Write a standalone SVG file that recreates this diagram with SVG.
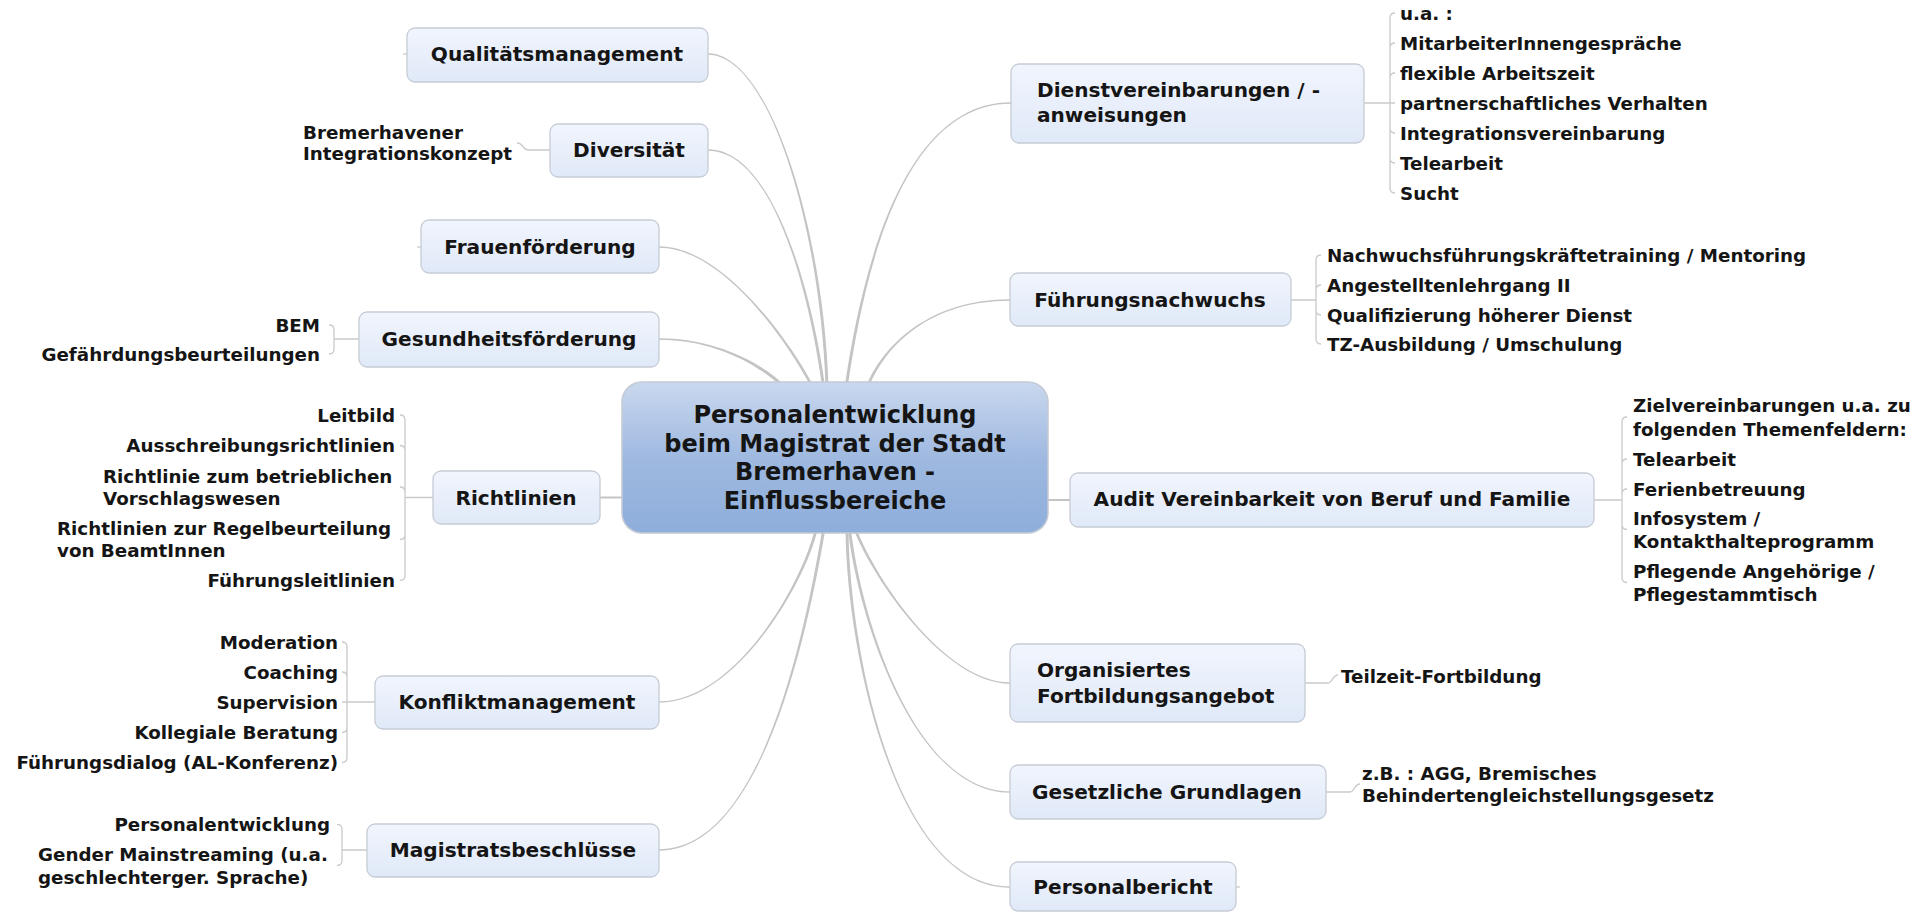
<svg xmlns="http://www.w3.org/2000/svg" width="1931" height="912" viewBox="0 0 1931 912">
<defs>
<linearGradient id="gNode" x1="0" y1="0" x2="0" y2="1">
<stop offset="0" stop-color="#f1f5fd"/>
<stop offset="1" stop-color="#e0e9f8"/>
</linearGradient>
<linearGradient id="gCenter" x1="0" y1="0" x2="0" y2="1">
<stop offset="0" stop-color="#c9d8ee"/>
<stop offset="0.5" stop-color="#9fb9e0"/>
<stop offset="1" stop-color="#8eaedb"/>
</linearGradient>
<style>
.box{fill:url(#gNode);stroke:#c6ccd5;stroke-width:1.3}
.cbox{fill:url(#gCenter);stroke:#c3cad4;stroke-width:1.5}
text{font-family:"DejaVu Sans",Verdana,sans-serif;font-weight:bold;fill:#151515}
.t{font-size:20.1px}
.s{font-size:18.3px}
.c{font-size:24px}
.m{text-anchor:middle}
.e{text-anchor:end}
.cn{fill:#c4c4c4;stroke:none}
.ln{fill:none;stroke:#c4c4c4;stroke-width:2}
.br{fill:none;stroke:#cacaca;stroke-width:1.3}
</style>
</defs>
<rect width="1931" height="912" fill="#ffffff"/>

<g id="connectors">
<path class="cn" d="M708,53.3 C770,53.3 823.5,230 828.5,386 L825.5,386 C820.5,230 770,54.7 708,54.7 Z"/>
<path class="cn" d="M708,149.3 C775,149.3 813.5,300 825,386 L822,386 C810.5,300 775,150.7 708,150.7 Z"/>
<path class="cn" d="M659,246.3 C720,246.3 786.5,335 813.5,386 L810.5,386 C783.5,335 720,247.7 659,247.7 Z"/>
<path class="cn" d="M659,338.3 C710,338.3 756.1,358.9 783.1,383.9 L780.9,386.1 C753.9,361.1 710,339.7 659,339.7 Z"/>
<path class="cn" d="M1011,102.3 C900,102.3 860.5,280 844.8,386 L847.8,386 C863.5,280 900,103.7 1011,103.7 Z"/>
<path class="cn" d="M1010,299.3 C930,299.3 883.5,345 866.8,385 L869.8,385 C886.5,345 930,300.7 1010,300.7 Z"/>
<path class="cn" d="M659,701.3 C735,701.3 801.5,585 814.5,530 L817.5,530 C804.5,585 735,702.7 659,702.7 Z"/>
<path class="cn" d="M659,849.3 C760,849.3 803.5,640 822.2,530 L825.2,530 C806.5,640 760,850.7 659,850.7 Z"/>
<path class="cn" d="M1010,682.3 C945,682.3 876.5,580 856.9,530 L853.9,530 C873.5,580 945,683.7 1010,683.7 Z"/>
<path class="cn" d="M1010,791.3 C915,791.3 861.5,620 851,530 L848,530 C858.5,620 915,792.7 1010,792.7 Z"/>
<path class="cn" d="M1010,886.3 C895,886.3 849.5,650 848.5,530 L845.5,530 C846.5,650 895,887.7 1010,887.7 Z"/>
<path class="ln" d="M600,497.5 H626"/>
<path class="ln" d="M1044,500 H1070"/>

<path class="br" d="M403,54 H407"/>
<path class="br" d="M417,247 H421"/>
<path class="br" d="M1236,887 H1240"/>

<path class="br" d="M550,150 H528 C522,150 524,143 517,143"/>
<path class="br" d="M359,339 H334 M334,339 V330 Q334,325 329,325 M334,339 V349 Q334,354 329,354"/>
<path class="br" d="M433,497.5 H405 M405,497.5 V420 Q405,415 400,415 M405,497.5 V450.5 Q405,445.5 400,445.5 M405,497.5 V492 Q405,487 400,487 M405,497.5 V534.5 Q405,539.5 400,539.5 M405,497.5 V575.4 Q405,580.4 400,580.4"/>
<path class="br" d="M375,702 H342 M347,702 V647 Q347,642 342,642 M347,702 V677 Q347,672 342,672 M347,702 V727.6 Q347,732.6 342,732.6 M347,702 V757.5 Q347,762.5 342,762.5"/>
<path class="br" d="M367,850 H342 M342,850 V829.3 Q342,824.3 337,824.3 M342,850 V860.5 Q342,865.5 337,865.5"/>
<path class="br" d="M1364,103 H1395 M1390,103 V18 Q1390,13 1395,13 M1390,103 V48 Q1390,43 1395,43 M1390,103 V78 Q1390,73 1395,73 M1390,103 V128 Q1390,133 1395,133 M1390,103 V158 Q1390,163 1395,163 M1390,103 V188 Q1390,193 1395,193"/>
<path class="br" d="M1291,300 H1316 M1316,300 V260 Q1316,255 1321,255 M1316,300 V290 Q1316,285 1321,285 M1316,300 V310 Q1316,315 1321,315 M1316,300 V339 Q1316,344 1321,344"/>
<path class="br" d="M1594,500 H1622 M1622,500 V422 Q1622,417 1627,417 M1622,500 V464 Q1622,459 1627,459 M1622,500 V494 Q1622,489 1627,489 M1622,500 V524.5 Q1622,529.5 1627,529.5 M1622,500 V577.5 Q1622,582.5 1627,582.5"/>
<path class="br" d="M1305,683 H1328 C1333,683 1332,675 1338,675"/>
<path class="br" d="M1326,792 H1350 C1355,792 1354,784 1360,784"/>
</g>

<g id="center">
<rect class="cbox" x="622" y="382" width="426" height="151" rx="20"/>
<text class="c m" x="835" y="423">Personalentwicklung</text>
<text class="c m" x="835" y="452">beim Magistrat der Stadt</text>
<text class="c m" x="835" y="480">Bremerhaven -</text>
<text class="c m" x="835" y="509">Einflussbereiche</text>
</g>

<g id="qualitaetsmanagement">
<rect class="box" x="407" y="28" width="301" height="54" rx="8"/>
<text class="t m" x="557" y="61">Qualitätsmanagement</text>
</g>

<g id="diversitaet">
<rect class="box" x="550" y="124" width="158" height="53" rx="8"/>
<text class="t m" x="629" y="157">Diversität</text>
<text class="s" x="303" y="138.5">Bremerhavener</text>
<text class="s" x="303" y="159.5">Integrationskonzept</text>
</g>

<g id="frauenfoerderung">
<rect class="box" x="421" y="220" width="238" height="53" rx="8"/>
<text class="t m" x="540" y="254">Frauenförderung</text>
</g>

<g id="gesundheitsfoerderung">
<rect class="box" x="359" y="312" width="300" height="55" rx="8"/>
<text class="t m" x="509" y="346">Gesundheitsförderung</text>
<text class="s e" x="320" y="331.5">BEM</text>
<text class="s e" x="320" y="360.5">Gefährdungsbeurteilungen</text>
</g>

<g id="richtlinien">
<rect class="box" x="433" y="471" width="167" height="53" rx="8"/>
<text class="t m" x="516" y="505">Richtlinien</text>
<text class="s e" x="395" y="421.6">Leitbild</text>
<text class="s e" x="395" y="452.1">Ausschreibungsrichtlinien</text>
<text class="s" x="103" y="482.7">Richtlinie zum betrieblichen</text>
<text class="s" x="103" y="504.8">Vorschlagswesen</text>
<text class="s" x="57" y="535.4">Richtlinien zur Regelbeurteilung</text>
<text class="s" x="57" y="556.8">von BeamtInnen</text>
<text class="s e" x="395" y="587">Führungsleitlinien</text>
</g>

<g id="konfliktmanagement">
<rect class="box" x="375" y="676" width="284" height="53" rx="8"/>
<text class="t m" x="517" y="709">Konfliktmanagement</text>
<text class="s e" x="338" y="648.5">Moderation</text>
<text class="s e" x="338" y="678.7">Coaching</text>
<text class="s e" x="338" y="708.6">Supervision</text>
<text class="s e" x="338" y="739.2">Kollegiale Beratung</text>
<text class="s e" x="338" y="769.1">Führungsdialog (AL-Konferenz)</text>
</g>

<g id="magistratsbeschluesse">
<rect class="box" x="367" y="824" width="292" height="53" rx="8"/>
<text class="t m" x="513" y="857">Magistratsbeschlüsse</text>
<text class="s e" x="330" y="830.9">Personalentwicklung</text>
<text class="s" x="38" y="860.8">Gender Mainstreaming (u.a.</text>
<text class="s" x="38" y="883.5">geschlechterger. Sprache)</text>
</g>

<g id="dienstvereinbarungen">
<rect class="box" x="1011" y="64" width="353" height="79" rx="8"/>
<text class="t" x="1037" y="97">Dienstvereinbarungen / -</text>
<text class="t" x="1037" y="122">anweisungen</text>
<text class="s" x="1400" y="19.5">u.a. :</text>
<text class="s" x="1400" y="49.5">MitarbeiterInnengespräche</text>
<text class="s" x="1400" y="79.5">flexible Arbeitszeit</text>
<text class="s" x="1400" y="109.5">partnerschaftliches Verhalten</text>
<text class="s" x="1400" y="139.5">Integrationsvereinbarung</text>
<text class="s" x="1400" y="169.5">Telearbeit</text>
<text class="s" x="1400" y="199.5">Sucht</text>
</g>

<g id="fuehrungsnachwuchs">
<rect class="box" x="1010" y="273" width="281" height="53" rx="8"/>
<text class="t m" x="1150" y="307">Führungsnachwuchs</text>
<text class="s" x="1327" y="261.5">Nachwuchsführungskräftetraining / Mentoring</text>
<text class="s" x="1327" y="291.5">Angestelltenlehrgang II</text>
<text class="s" x="1327" y="321.5">Qualifizierung höherer Dienst</text>
<text class="s" x="1327" y="350.5">TZ-Ausbildung / Umschulung</text>
</g>

<g id="audit">
<rect class="box" x="1070" y="473" width="524" height="54" rx="8"/>
<text class="t m" x="1332" y="506">Audit Vereinbarkeit von Beruf und Familie</text>
<text class="s" x="1633" y="411.5">Zielvereinbarungen u.a. zu</text>
<text class="s" x="1633" y="435.5">folgenden Themenfeldern:</text>
<text class="s" x="1633" y="465.5">Telearbeit</text>
<text class="s" x="1633" y="495.5">Ferienbetreuung</text>
<text class="s" x="1633" y="524.5">Infosystem /</text>
<text class="s" x="1633" y="547.5">Kontakthalteprogramm</text>
<text class="s" x="1633" y="577.5">Pflegende Angehörige /</text>
<text class="s" x="1633" y="600.5">Pflegestammtisch</text>
</g>

<g id="fortbildungsangebot">
<rect class="box" x="1010" y="644" width="295" height="78" rx="8"/>
<text class="t" x="1037" y="677">Organisiertes</text>
<text class="t" x="1037" y="703">Fortbildungsangebot</text>
<text class="s" x="1341" y="682.5">Teilzeit-Fortbildung</text>
</g>

<g id="gesetzliche-grundlagen">
<rect class="box" x="1010" y="765" width="316" height="54" rx="8"/>
<text class="t m" x="1167" y="799">Gesetzliche Grundlagen</text>
<text class="s" x="1362" y="779.5">z.B. : AGG, Bremisches</text>
<text class="s" x="1362" y="801.5">Behindertengleichstellungsgesetz</text>
</g>

<g id="personalbericht">
<rect class="box" x="1010" y="862" width="226" height="49" rx="8"/>
<text class="t m" x="1123" y="894">Personalbericht</text>
</g>
</svg>
